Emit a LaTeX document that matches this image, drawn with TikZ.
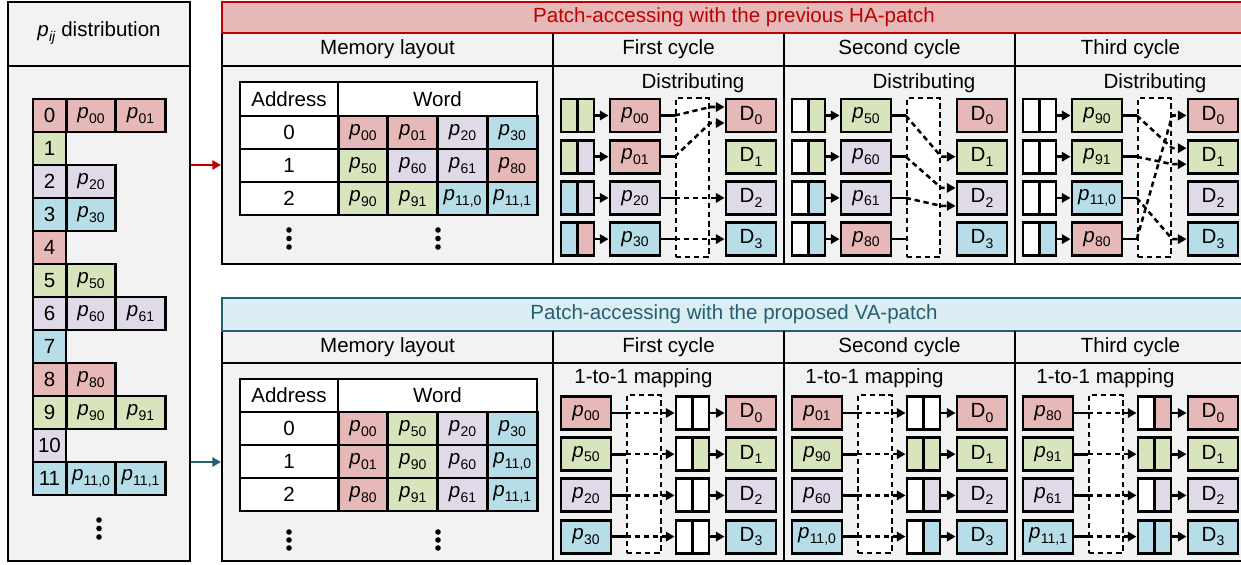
\documentclass[tikz,border=0pt]{standalone}
\usepackage{fontspec}
\setmainfont{Liberation Sans}
\usetikzlibrary{arrows.meta,calc}
\definecolor{cr}{RGB}{230,184,183}
\definecolor{cg}{RGB}{216,228,188}
\definecolor{cp}{RGB}{223,217,232}
\definecolor{cb}{RGB}{183,222,232}
\definecolor{panel}{RGB}{242,242,242}
\definecolor{hared}{RGB}{192,0,0}
\definecolor{hafill}{RGB}{230,184,183}
\definecolor{vaedge}{RGB}{38,94,114}
\definecolor{vafill}{RGB}{218,238,243}
\colorlet{d0}{cr}\colorlet{d1}{cg}\colorlet{d2}{cp}\colorlet{d3}{cb}
\newcommand\sub[1]{\raisebox{-0.22em}{\fontsize{10.5pt}{12pt}\selectfont #1}}
\newcommand\pv[1]{\textit{p}\kern0.2pt\sub{#1}}
\begin{document}
\begin{tikzpicture}[x=0.75pt, y=-0.75pt,
  font=\fontsize{15.4pt}{18pt}\selectfont,
  >={Triangle[length=6.5pt,width=7pt]},
  sz/.style 2 args={minimum width=#1*0.75pt, minimum height=#2*0.75pt},
  cell/.style={draw, line width=2.2pt, inner sep=0pt},
  pline/.style={line width=1.6pt},
  conn/.style={line width=2pt},
  dsh/.style={line width=1.9pt, dash pattern=on 4pt off 2.8pt},
  dbox/.style={draw, fill=white, line width=1.9pt, dash pattern=on 4pt off 2.8pt, inner sep=0pt}]
\useasboundingbox (0,0) rectangle (1241,564);
\clip (0,0) rectangle (1241,564);

% ---------------- left panel ----------------
\node[draw, pline, fill=panel, sz={182}{559}, inner sep=0pt] (lp) at (99,281.5) {};
\draw[pline] (lp.west |- 0,66) -- (lp.east |- 0,66);
\node (lph) at (99,33) {\pv{\textit{ij}} distribution};
\foreach \i/\c in {0/cr,1/cg,2/cp,3/cb,4/cr,5/cg,6/cp,7/cb,8/cr,9/cg,10/cp,11/cb}
  \node[cell, fill=\c, sz={33}{33}] (li\i) at (49.5,115.5+33*\i) {\i};
\foreach \i/\k/\c/\t in {0/1/cr/00, 0/2/cr/01, 2/1/cp/20, 3/1/cb/30, 5/1/cg/50, 6/1/cp/60, 6/2/cp/61, 8/1/cr/80, 9/1/cg/90, 9/2/cg/91, 11/1/cb/{11,0}, 11/2/cb/{11,1}}
  \node[cell, fill=\c, sz={49.5}{33}] (lc\i-\k) at (41.5+49.5*\k,115.5+33*\i) {\pv{\t}};
\foreach \yy in {520,528.5,537} \fill (99,\yy) circle[radius=2.8];

% ---------------- top panel ----------------
\node[draw, pline, fill=panel, sz={1024}{231}, inner sep=0pt] (tp) at (734,148.5) {};
\node[draw=hared, pline, fill=hafill, sz={1024}{31}, inner sep=0pt, text=hared] (tb) at (734,17.5) {Patch-accessing with the previous HA-patch};
\draw[pline] (222,66) -- (1246,66);
\foreach \xx in {553,784,1015} \draw[pline] (\xx,33) -- (\xx,264);
\node (th0) at (387.5,49.5) {Memory layout};
\node (th1) at (668.5,49.5) {First cycle};
\node (th2) at (899.5,49.5) {Second cycle};
\node (th3) at (1130.5,49.5) {Third cycle};

% top memory table
\node[cell, fill=white, sz={98}{34}] (TAh) at (289,99) {Address};
\node[cell, fill=white, sz={199}{34}] (TWh) at (437.5,99) {Word};
\foreach \r in {0,1,2} \node[cell, fill=white, sz={98}{33}] (TA\r) at (289,132.5+33*\r) {\r};
\foreach \r/\k/\c/\t in {0/0/cr/00,0/1/cr/01,0/2/cp/20,0/3/cb/30,1/0/cg/50,1/1/cp/60,1/2/cp/61,1/3/cr/80,2/0/cg/90,2/1/cg/91,2/2/cb/{11,0},2/3/cb/{11,1}}
  \node[cell, fill=\c, sz={49.75}{33}] (TW\r-\k) at (363+49.75*\k,132.5+33*\r) {\pv{\t}};
\foreach \yy in {230,238.5,247} {\fill (289,\yy) circle[radius=2.8]; \fill (438,\yy) circle[radius=2.8];}

% top cycles
\foreach \c/\L in {1/553,2/784,3/1015} {
  \node (T\c-h) at (\L+140,83) {Distributing};
  \node[dbox, sz={33}{159}] (T\c-x) at (\L+139.5,177.5) {};
  \foreach \r in {0,...,3}
    \node[cell, fill=d\r, sz={50}{33}] (T\c-d\r) at (\L+198,115.5+41.2*\r) {D\sub{\r}};
}
\foreach \c/\L/\r/\t/\pc/\ba/\bb in {1/553/0/00/cr/cg/cg, 1/553/1/01/cr/cg/cp, 1/553/2/20/cp/cb/cp, 1/553/3/30/cb/cb/cr, 2/784/0/50/cg/white/cg, 2/784/1/60/cp/white/cg, 2/784/2/61/cp/white/cb, 2/784/3/80/cr/white/cb, 3/1015/0/90/cg/white/white, 3/1015/1/91/cg/white/white, 3/1015/2/{11,0}/cb/white/white, 3/1015/3/80/cr/white/cb} {
  \node[cell, fill=\ba, sz={16.5}{33}] (T\c-b\r-L) at (\L+16.25,115.5+41.2*\r) {};
  \node[cell, fill=\bb, sz={16.5}{33}] (T\c-b\r-R) at (\L+32.75,115.5+41.2*\r) {};
  \node[cell, fill=\pc, sz={50}{33}] (T\c-p\r) at (\L+82,115.5+41.2*\r) {\pv{\t}};
  \draw[conn,->] (T\c-b\r-R.east) -- (T\c-p\r.west);
  \draw[conn] (T\c-p\r.east) -- (T\c-x.west |- T\c-p\r.east);
}
\foreach \c/\r/\t/\dy in {1/0/0/-8.5, 1/1/0/7.5, 1/2/2/0, 1/3/3/0, 2/0/1/0, 2/1/2/-10, 2/2/2/8, 3/0/1/-8.5, 3/1/1/7.5, 3/2/3/0, 3/3/0/0} {
  \coordinate (tg) at ($(T\c-d\t.west)+(0,\dy)$);
  \draw[dsh,->] (T\c-x.west |- T\c-p\r.east) -- (T\c-x.east |- tg) -- (tg);
}

% ---------------- bottom panel ----------------
\node[draw, pline, fill=panel, sz={1024}{230}, inner sep=0pt] (bp) at (734,446) {};
\node[draw=vaedge, pline, fill=vafill, sz={1024}{33}, inner sep=0pt, text=vaedge] (bb) at (734,314.5) {Patch-accessing with the proposed VA-patch};
\draw[pline] (222,363) -- (1246,363);
\foreach \xx in {553,784,1015} \draw[pline] (\xx,331) -- (\xx,561);
\node (bh0) at (387.5,347) {Memory layout};
\node (bh1) at (668.5,347) {First cycle};
\node (bh2) at (899.5,347) {Second cycle};
\node (bh3) at (1130.5,347) {Third cycle};

% bottom memory table
\node[cell, fill=white, sz={98}{33}] (BAh) at (289,395.5) {Address};
\node[cell, fill=white, sz={199}{33}] (BWh) at (437.5,395.5) {Word};
\foreach \r in {0,1,2} \node[cell, fill=white, sz={98}{33}] (BA\r) at (289,428.5+33*\r) {\r};
\foreach \r/\k/\c/\t in {0/0/cr/00,0/1/cg/50,0/2/cp/20,0/3/cb/30,1/0/cr/01,1/1/cg/90,1/2/cp/60,1/3/cb/{11,0},2/0/cr/80,2/1/cg/91,2/2/cp/61,2/3/cb/{11,1}}
  \node[cell, fill=\c, sz={49.75}{33}] (BW\r-\k) at (363+49.75*\k,428.5+33*\r) {\pv{\t}};
\foreach \yy in {532,540,548} {\fill (289,\yy) circle[radius=2.8]; \fill (438,\yy) circle[radius=2.8];}

% bottom cycles
\foreach \c/\L in {1/553,2/784,3/1015} {
  \node (B\c-h) at (\L+90.5,378) {1-to-1 mapping};
  \node[dbox, sz={34}{158}] (B\c-x) at (\L+91,474) {};
  \foreach \r in {0,...,3}
    \node[cell, fill=d\r, sz={50}{33}] (B\c-d\r) at (\L+198,413+41.2*\r) {D\sub{\r}};
}
\foreach \c/\L/\r/\t/\pc/\ba/\bb in {1/553/0/00/cr/white/white, 1/553/1/50/cg/white/cg, 1/553/2/20/cp/white/white, 1/553/3/30/cb/white/white, 2/784/0/01/cr/white/white, 2/784/1/90/cg/cg/cg, 2/784/2/60/cp/white/cp, 2/784/3/{11,0}/cb/white/cb, 3/1015/0/80/cr/white/cr, 3/1015/1/91/cg/cg/cg, 3/1015/2/61/cp/white/cp, 3/1015/3/{11,1}/cb/cb/cb} {
  \node[cell, fill=\pc, sz={50}{33}] (B\c-p\r) at (\L+33,413+41.2*\r) {\pv{\t}};
  \node[cell, fill=\ba, sz={16.5}{33}] (B\c-b\r-L) at (\L+131.25,413+41.2*\r) {};
  \node[cell, fill=\bb, sz={16.5}{33}] (B\c-b\r-R) at (\L+147.75,413+41.2*\r) {};
  \draw[conn] (B\c-p\r.east) -- (B\c-x.west |- B\c-p\r.east);
  \draw[dsh,->] (B\c-x.west |- B\c-p\r.east) -- (B\c-b\r-L.west);
  \draw[conn,->] (B\c-b\r-R.east) -- (B\c-d\r.west);
}

% ---------------- panel arrows ----------------
\coordinate (ya) at (0,165);
\coordinate (yb) at (0,462);
\draw[conn,->,hared] (lp.east |- ya) -- (tp.west |- ya);
\draw[conn,->,vaedge] (lp.east |- yb) -- (bp.west |- yb);
\end{tikzpicture}
\end{document}
